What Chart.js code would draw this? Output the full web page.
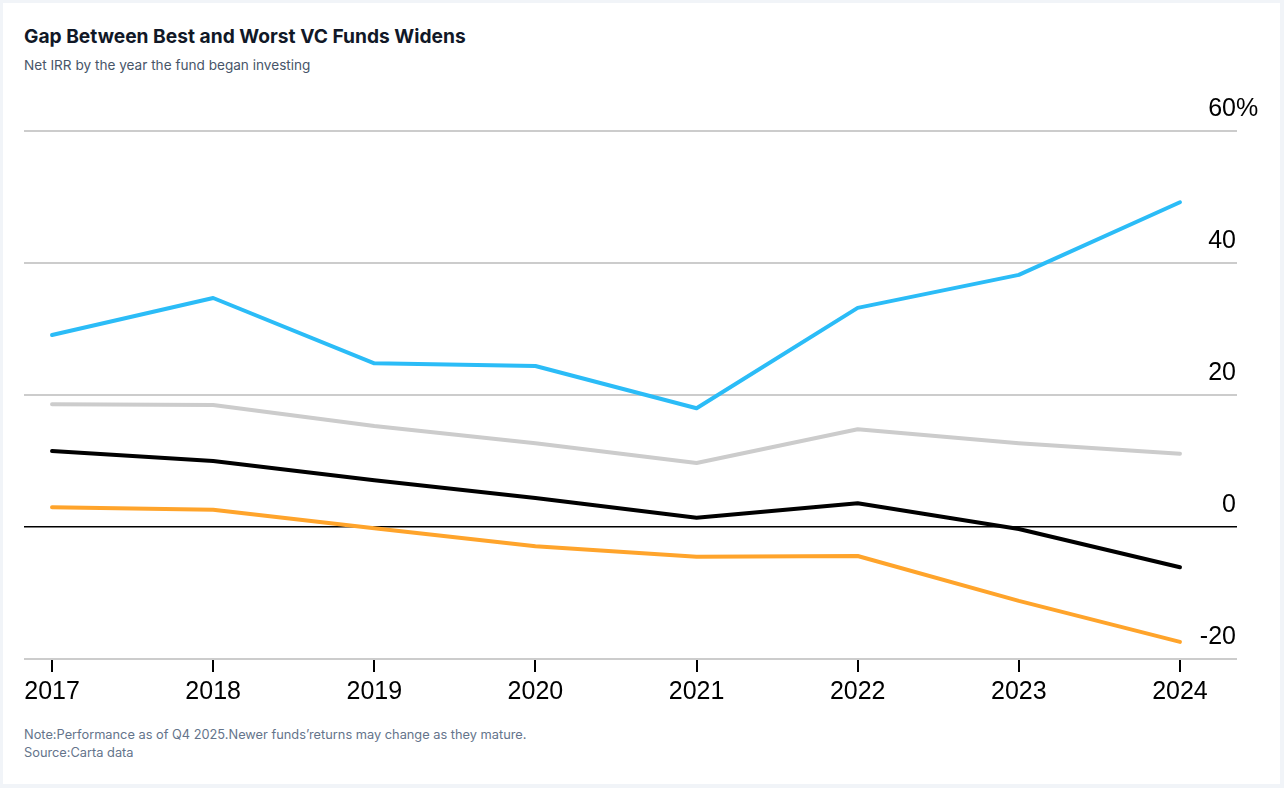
<!DOCTYPE html>
<html>
<head>
<meta charset="utf-8">
<script src="https://cdn.jsdelivr.net/npm/chart.js@4"></script>
<style>
  html, body { margin: 0; padding: 0; background: #f1f4f8; }
  .card { position: absolute; left: 3px; top: 3px; width: 1277px; height: 781px; background: #fff; }
  h1 { position: absolute; left: 21px; top: 21px; margin: 0; font: 700 19.2px Inter, sans-serif; color: #111827; }
  .sub { position: absolute; left: 21px; top: 54px; font: 13.6px Inter, sans-serif; color: #475569; }
  .note { position: absolute; left: 21px; top: 723px; font: 12.8px Inter, sans-serif; color: #64748b; line-height: 18px; }
  .wrap { position: absolute; left: -3px; top: 77px; width: 1284px; height: 640px; }
</style>
</head>
<body>
<div class="card">
  <h1>Gap Between Best and Worst VC Funds Widens</h1>
  <div class="sub">Net IRR by the year the fund began investing</div>
  <div class="wrap"><canvas id="c"></canvas></div>
  <div class="note">Note:Performance as of Q4 2025.Newer funds’returns may change as they mature.<br>Source:Carta data</div>
</div>
<script>
const years = [2017, 2018, 2019, 2020, 2021, 2022, 2023, 2024];
const topQuartile = [29.1, 34.7, 24.8, 24.4, 18.0, 33.2, 38.2, 49.2];
const upperMid = [18.6, 18.5, 15.3, 12.7, 9.7, 14.8, 12.7, 11.1];
const median = [11.5, 10.0, 7.1, 4.4, 1.4, 3.6, -0.3, -6.1];
const bottomQuartile = [3.0, 2.6, -0.2, -2.9, -4.5, -4.4, -11.2, -17.4];
const yTicks = [-20, 0, 20, 40, 60];

const font = { family: '"Liberation Sans", Arial, sans-serif', size: 25 };
const labelOffset = -22;
const labelPad = -1;

function series(vals, color) {
  return {
    data: vals.map((v, i) => ({ x: years[i], y: v })),
    borderColor: color,
    borderWidth: 4,
    pointRadius: 0,
    tension: 0,
    borderCapStyle: 'round',
    borderJoinStyle: 'round'
  };
}

// the % sign hangs past the right edge, after the top tick number
const percentSign = {
  id: 'percentSign',
  afterDraw(chart) {
    const y = chart.scales.y;
    const ctx = chart.ctx;
    ctx.save();
    ctx.font = `${font.size}px ${font.family}`;
    ctx.fillStyle = '#000';
    ctx.textAlign = 'left';
    ctx.textBaseline = 'middle';
    ctx.fillText('%', y.left + labelPad, y.getPixelForValue(60) + labelOffset);
    ctx.restore();
  }
};

new Chart(document.getElementById('c'), {
  type: 'line',
  data: {
    datasets: [
      series(upperMid, '#cccccc'),
      series(bottomQuartile, '#ffa42b'),
      series(median, '#000000'),
      series(topQuartile, '#2bbcf7')
    ]
  },
  options: {
    responsive: true,
    maintainAspectRatio: false,
    animation: false,
    layout: { padding: { left: 24, right: 47, top: 51, bottom: 8 } },
    plugins: { legend: { display: false }, tooltip: { enabled: false } },
    scales: {
      x: {
        type: 'linear',
        min: 2016.826,
        max: 2024.354,
        afterBuildTicks: s => { s.ticks = years.map(v => ({ value: v })); },
        ticks: { font, color: '#000', padding: 5, maxRotation: 0, callback: v => String(v) },
        grid: { drawOnChartArea: false, color: '#000', lineWidth: 2, tickLength: 13 },
        border: { display: false }
      },
      y: {
        position: 'right',
        min: -20,
        max: 60,
        afterBuildTicks: s => { s.ticks = yTicks.map(v => ({ value: v })); },
        ticks: {
          font, color: '#000', mirror: true, padding: labelPad, labelOffset,
          callback: v => String(v)
        },
        grid: {
          drawTicks: false,
          color: c => c.tick && c.tick.value === 0 ? '#000' : '#cccccc',
          lineWidth: c => c.tick && c.tick.value === 0 ? 1.5 : 2
        },
        border: { display: false }
      }
    }
  },
  plugins: [percentSign]
});
</script>
</body>
</html>
